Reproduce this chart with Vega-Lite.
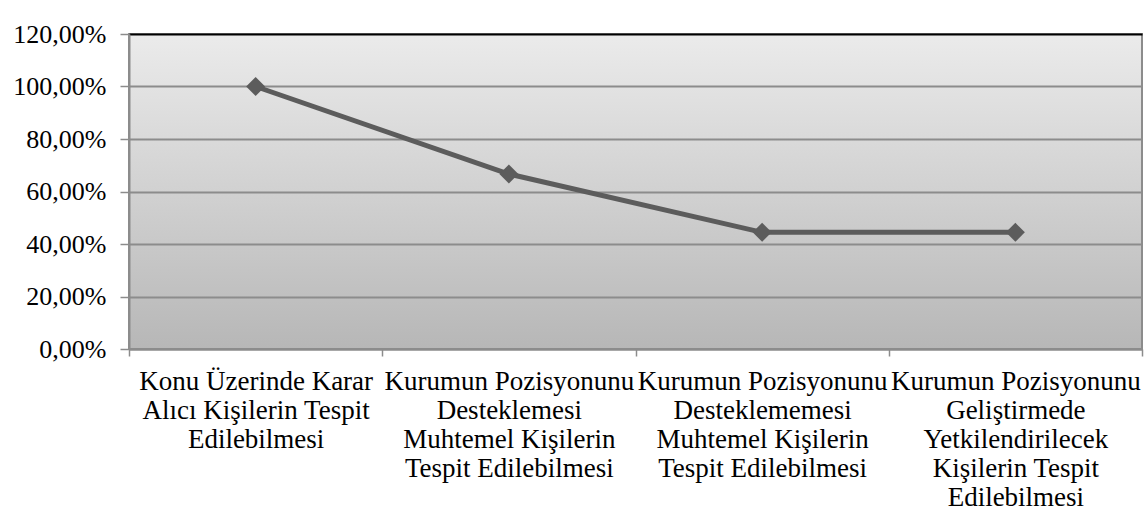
{
  "$schema": "https://vega.github.io/schema/vega-lite/v6.json",
  "autosize": {"type": "none"},
  "width": 1013,
  "height": 315,
  "padding": {"left": 129, "top": 34, "right": 3, "bottom": 166},
  "background": "white",
  "config": {
    "font": "Liberation Serif",
    "view": {
      "stroke": "#8c8c8c",
      "strokeWidth": 2,
      "fill": {"gradient": "linear", "x1": 0, "y1": 0, "x2": 0, "y2": 1, "stops": [{"offset": 0, "color": "#ebebeb"}, {"offset": 1, "color": "#b7b7b7"}]}
    }
  },
  "data": {
    "values": [
      {"kategori": "Konu Üzerinde Karar Alıcı Kişilerin Tespit Edilebilmesi", "oran": 1.0},
      {"kategori": "Kurumun Pozisyonunu Desteklemesi Muhtemel Kişilerin Tespit Edilebilmesi", "oran": 0.6667},
      {"kategori": "Kurumun Pozisyonunu Desteklememesi Muhtemel Kişilerin Tespit Edilebilmesi", "oran": 0.4444},
      {"kategori": "Kurumun Pozisyonunu Geliştirmede Yetkilendirilecek Kişilerin Tespit Edilebilmesi", "oran": 0.4444}
    ]
  },
  "encoding": {
    "x": {
      "field": "kategori",
      "type": "nominal",
      "sort": null,
      "scale": {"paddingInner": 0, "paddingOuter": 0},
      "axis": {
        "title": null,
        "labelAngle": 0,
        "labelFont": "Liberation Serif",
        "labelFontSize": 27,
        "labelColor": "black",
        "labelLineHeight": 29,
        "labelPadding": 12,
        "labelBaseline": "top",
        "labelLimit": 0,
        "labelOverlap": false,
        "tickBand": "extent",
        "tickSize": 7,
        "tickColor": "#8c8c8c",
        "tickWidth": 1.5,
        "domainColor": "#8c8c8c",
        "domainWidth": 2,
        "labelExpr": "datum.value == 'Konu Üzerinde Karar Alıcı Kişilerin Tespit Edilebilmesi' ? ['Konu Üzerinde Karar', 'Alıcı Kişilerin Tespit', 'Edilebilmesi'] : datum.value == 'Kurumun Pozisyonunu Desteklemesi Muhtemel Kişilerin Tespit Edilebilmesi' ? ['Kurumun Pozisyonunu', 'Desteklemesi', 'Muhtemel Kişilerin', 'Tespit Edilebilmesi'] : datum.value == 'Kurumun Pozisyonunu Desteklememesi Muhtemel Kişilerin Tespit Edilebilmesi' ? ['Kurumun Pozisyonunu', 'Desteklememesi', 'Muhtemel Kişilerin', 'Tespit Edilebilmesi'] : datum.value == 'Kurumun Pozisyonunu Geliştirmede Yetkilendirilecek Kişilerin Tespit Edilebilmesi' ? ['Kurumun Pozisyonunu', 'Geliştirmede', 'Yetkilendirilecek', 'Kişilerin Tespit', 'Edilebilmesi'] : ''"
      }
    },
    "y": {
      "field": "oran",
      "type": "quantitative",
      "scale": {"domain": [0, 1.2], "nice": false},
      "axis": {
        "title": null,
        "values": [0, 0.2, 0.4, 0.6, 0.8, 1.0, 1.2],
        "labelExpr": "replace(format(datum.value, '.2%'), '.', ',')",
        "labelFont": "Liberation Serif",
        "labelFontSize": 26,
        "labelColor": "black",
        "labelPadding": 14,
        "tickSize": 9,
        "tickColor": "#8c8c8c",
        "tickWidth": 1.5,
        "domainColor": "#8c8c8c",
        "domainWidth": 2,
        "grid": true,
        "gridColor": {"condition": {"test": "datum.value >= 1.19", "value": "black"}, "value": "#8c8c8c"},
        "gridWidth": 2,
        "gridOpacity": 1
      }
    }
  },
  "layer": [
    {"mark": {"type": "line", "color": "#5c5c5c", "strokeWidth": 5}},
    {"mark": {"type": "point", "shape": "diamond", "filled": true, "color": "#5c5c5c", "size": 360, "opacity": 1}}
  ]
}
